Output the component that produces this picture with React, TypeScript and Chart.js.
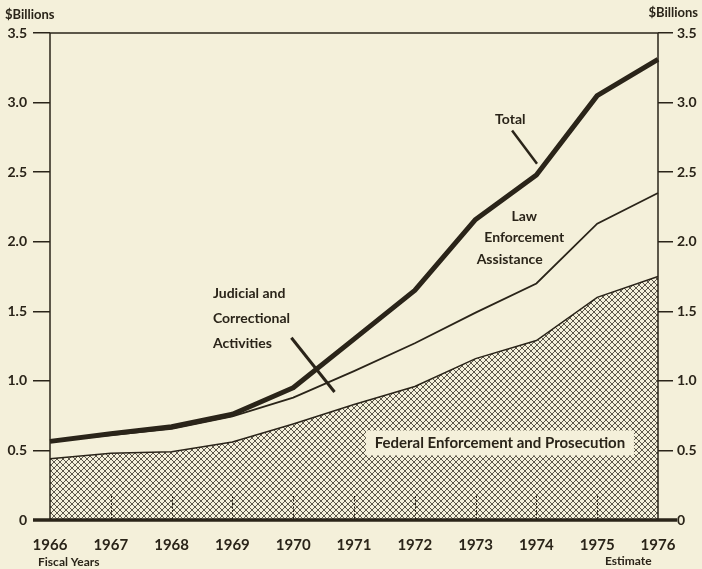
import React, { useEffect, useRef } from 'react';
import { Chart, registerables } from 'chart.js';

Chart.register(...registerables);

// ---------- data ----------
const years = ['1966', '1967', '1968', '1969', '1970', '1971', '1972', '1973', '1974', '1975', '1976'];
// top of hatched area: Federal Enforcement and Prosecution
const federalEnforcement = [0.44, 0.48, 0.49, 0.56, 0.69, 0.83, 0.96, 1.16, 1.29, 1.6, 1.75];
// thin line: Federal + Judicial and Correctional Activities
const judicialCorrectionalTop = [0.565, 0.61, 0.655, 0.745, 0.88, 1.07, 1.27, 1.49, 1.7, 2.13, 2.35];
// thick line: Total (adds Law Enforcement Assistance)
const totalOutlays = [0.565, 0.62, 0.67, 0.76, 0.95, 1.3, 1.65, 2.16, 2.48, 3.05, 3.31];
const yTickValues = [0, 0.5, 1, 1.5, 2, 2.5, 3, 3.5];
const yTickLabels = ['0', '0.5', '1.0', '1.5', '2.0', '2.5', '3.0', '3.5'];

// ---------- styling ----------
const INK = '#2a2419';
const BG = '#f4f0da';
const LABEL_FONT = 'Lato, "Noto Sans", sans-serif';

function makeHatch(): CanvasPattern | string {
  const t = document.createElement('canvas');
  t.width = 6;
  t.height = 6;
  const c = t.getContext('2d');
  if (!c) return '#bbb';
  c.fillStyle = BG;
  c.fillRect(0, 0, 6, 6);
  c.strokeStyle = 'rgba(42,36,25,0.75)';
  c.lineWidth = 1;
  c.beginPath();
  c.moveTo(0, 0);
  c.lineTo(6, 6);
  c.moveTo(6, 0);
  c.lineTo(0, 6);
  c.stroke();
  const p = c.createPattern(t, 'repeat');
  return p || '#bbb';
}

const decor = {
  id: 'decor',
  beforeDraw(chart: any) {
    const { ctx } = chart;
    ctx.save();
    ctx.fillStyle = BG;
    ctx.fillRect(0, 0, chart.width, chart.height);
    ctx.restore();
  },
  afterDatasetsDraw(chart: any) {
    const { ctx, scales } = chart;
    const xs = scales.x;
    const ys = scales.y;
    const P = (i: number, v: number): [number, number] => [xs.getPixelForValue(i), ys.getPixelForValue(v)];
    const L = xs.getPixelForValue(0);
    const R = xs.getPixelForValue(years.length - 1);
    const y0 = ys.getPixelForValue(0);
    const yTop = ys.getPixelForValue(3.5);
    const line = (a: number, b: number, c: number, d: number) => {
      ctx.beginPath();
      ctx.moveTo(a, b);
      ctx.lineTo(c, d);
      ctx.stroke();
    };
    ctx.save();
    ctx.strokeStyle = INK;
    ctx.fillStyle = INK;

    // short inner year ticks on the baseline
    ctx.lineWidth = 1;
    ctx.setLineDash([2, 1.5]);
    for (let i = 1; i < years.length - 1; i++) {
      const px = Math.round(xs.getPixelForValue(i)) + 0.5;
      line(px, y0 - 24, px, y0);
    }
    ctx.setLineDash([]);

    // frame
    ctx.lineWidth = 1.5;
    line(L, yTop, L, y0);
    line(R, yTop, R, y0);
    line(L, yTop, R, yTop);
    ctx.lineWidth = 3.5;
    line(L - 17, y0, R + 19, y0);

    // Federal label box
    ctx.font = `bold 15px ${LABEL_FONT}`;
    ctx.textBaseline = 'middle';
    ctx.textAlign = 'center';
    const [fx, fy] = P(7.4, 0.55);
    ctx.fillStyle = BG;
    ctx.fillRect(fx - 134, fy - 13, 268, 25);
    ctx.fillStyle = INK;
    ctx.fillText('Federal Enforcement and Prosecution', fx, fy);

    // Judicial and Correctional Activities
    ctx.font = `bold 14px ${LABEL_FONT}`;
    ctx.textAlign = 'left';
    const judLines = ['Judicial and', 'Correctional', 'Activities'];
    const judV = [1.63, 1.45, 1.27];
    judLines.forEach((s, k) => {
      const [tx, ty] = P(2.68, judV[k]);
      ctx.fillText(s, tx, ty);
    });
    ctx.lineWidth = 3;
    {
      const [a, b] = P(3.97, 1.31);
      const [c, d] = P(4.68, 0.92);
      line(a, b, c, d);
    }

    // Law Enforcement Assistance
    ctx.textAlign = 'center';
    const leaLines = ['Law', 'Enforcement', 'Assistance'];
    const leaI = [7.8, 7.8, 7.56];
    const leaV = [2.18, 2.03, 1.87];
    leaLines.forEach((s, k) => {
      const [tx, ty] = P(leaI[k], leaV[k]);
      ctx.fillText(s, tx, ty);
    });

    // Total
    {
      const [tx, ty] = P(7.57, 2.88);
      ctx.fillText('Total', tx, ty);
      ctx.lineWidth = 2.5;
      const [a, b] = P(7.6, 2.8);
      const [c, d] = P(8.01, 2.56);
      line(a, b, c, d);
    }

    // axis captions
    ctx.font = `bold 13px ${LABEL_FONT}`;
    ctx.textAlign = 'left';
    ctx.fillText('$Billions', 5, 15);
    ctx.textAlign = 'right';
    ctx.fillText('$Billions', 698, 13);
    ctx.font = `bold 12px ${LABEL_FONT}`;
    ctx.textAlign = 'left';
    ctx.fillText('Fiscal Years', 38, 562);
    ctx.fillText('Estimate', 605, 561);
    ctx.restore();
  },
};

export default function App() {
  const ref = useRef<HTMLCanvasElement | null>(null);
  useEffect(() => {
    document.body.style.margin = '0';
    document.body.style.background = BG;
    const canvas = ref.current;
    if (!canvas) return;
    const hatch = makeHatch();
    const yTicksCommon = {
      min: 0,
      max: 3.5,
      afterBuildTicks: (s: any) => {
        s.ticks = yTickValues.map((v) => ({ value: v }));
      },
    };
    const chart = new Chart(canvas, {
      type: 'line',
      data: {
        labels: years,
        datasets: [
          {
            label: 'Total',
            data: totalOutlays,
            borderColor: INK,
            borderWidth: 5,
            pointRadius: 0,
            fill: false,
            tension: 0,
            borderJoinStyle: 'round',
          },
          {
            label: 'Judicial and Correctional Activities',
            data: judicialCorrectionalTop,
            borderColor: INK,
            borderWidth: 1.8,
            pointRadius: 0,
            fill: false,
            tension: 0,
          },
          {
            label: 'Federal Enforcement and Prosecution',
            data: federalEnforcement,
            borderColor: INK,
            borderWidth: 1.5,
            backgroundColor: hatch as any,
            pointRadius: 0,
            fill: 'origin',
            tension: 0,
          },
        ],
      },
      options: {
        responsive: false,
        animation: false,
        layout: { padding: { top: 33, left: 0, right: 0, bottom: 0 } },
        plugins: { legend: { display: false }, tooltip: { enabled: false } },
        scales: {
          x: {
            type: 'category',
            offset: false,
            border: { display: false },
            grid: { display: false, drawTicks: false },
            ticks: {
              color: INK,
              font: { family: LABEL_FONT, size: 15, weight: 'bold' },
              padding: 16,
              maxRotation: 0,
              autoSkip: false,
            },
            afterFit: (s: any) => {
              s.height = 49;
            },
          },
          y: {
            ...yTicksCommon,
            position: 'left',
            border: { display: false },
            grid: { drawOnChartArea: false, drawTicks: true, tickLength: 17, tickColor: INK, lineWidth: 1.5, color: INK },
            ticks: {
              color: INK,
              padding: 6,
              font: { family: LABEL_FONT, size: 14, weight: 'bold' },
              callback: (_v: any, i: number) => yTickLabels[i],
            },
            afterFit: (s: any) => {
              s.width = 50;
            },
          },
          y2: {
            ...yTicksCommon,
            position: 'right',
            border: { display: false },
            grid: { drawOnChartArea: false, drawTicks: true, tickLength: 15, tickColor: INK, lineWidth: 1.5, color: INK },
            ticks: {
              color: INK,
              padding: 4,
              font: { family: LABEL_FONT, size: 14, weight: 'bold' },
              callback: (_v: any, i: number) => yTickLabels[i],
            },
            afterFit: (s: any) => {
              s.width = 44;
            },
          },
        },
      },
      plugins: [decor],
    });
    return () => chart.destroy();
  }, []);
  return (
    <div style={{ position: 'fixed', left: 0, top: 0, width: 702, height: 569, background: BG }}>
      <canvas ref={ref} width={702} height={569} />
    </div>
  );
}
